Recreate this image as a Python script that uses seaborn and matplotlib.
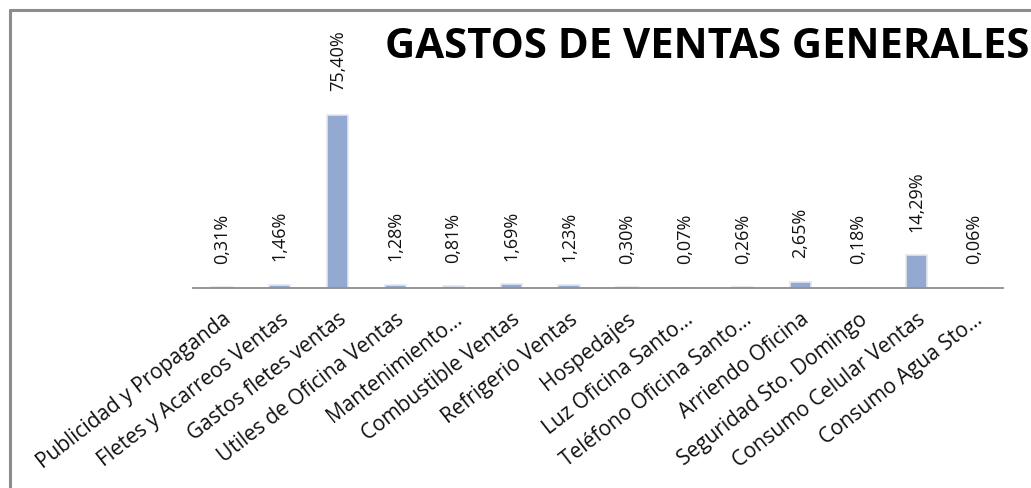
import matplotlib
matplotlib.use("Agg")
import matplotlib.pyplot as plt
import seaborn as sns
import pandas as pd
from matplotlib.lines import Line2D

categories = [
    "Publicidad y Propaganda", "Fletes y Acarreos Ventas", "Gastos fletes ventas",
    "Utiles de Oficina Ventas", "Mantenimiento…", "Combustible Ventas",
    "Refrigerio Ventas", "Hospedajes", "Luz Oficina Santo…",
    "Teléfono Oficina Santo…", "Arriendo Oficina", "Seguridad Sto. Domingo",
    "Consumo Celular Ventas", "Consumo Agua Sto…",
]
values = [0.31, 1.46, 75.40, 1.28, 0.81, 1.69, 1.23, 0.30, 0.07, 0.26, 2.65, 0.18, 14.29, 0.06]
labels = ["0,31%", "1,46%", "75,40%", "1,28%", "0,81%", "1,69%", "1,23%", "0,30%",
          "0,07%", "0,26%", "2,65%", "0,18%", "14,29%", "0,06%"]
title = "GASTOS DE VENTAS GENERALES"

sns.set_theme(style="white")
plt.rcParams["font.family"] = ["Open Sans", "DejaVu Sans"]

W, H = 1031, 488
fig = plt.figure(figsize=(W / 100, H / 100), dpi=100)
ax = fig.add_axes([193 / W, 1 - 288 / H, 810 / W, 268 / H])

df = pd.DataFrame({"cat": categories, "val": values})
sns.barplot(data=df, x="cat", y="val", ax=ax, color="#93A9D1", width=0.37,
            saturation=1, edgecolor="#E4E7EC", linewidth=1.2)

ax.set_xlim(-0.5, len(categories) - 0.5)
ax.set_ylim(0, 116.8)
ax.set_xlabel("")
ax.set_ylabel("")
ax.set_yticks([])
for s in ["top", "left", "right"]:
    ax.spines[s].set_visible(False)
ax.spines["bottom"].set_color("#8C8C8C")
ax.spines["bottom"].set_linewidth(1.3)
ax.tick_params(axis="x", length=0, pad=15)
ax.set_xticks(range(len(categories)))
ax.set_xticklabels(categories, rotation=38, ha="right", rotation_mode="anchor",
                   fontsize=15, color="#111111")

for i, (v, lab) in enumerate(zip(values, labels)):
    ax.annotate(lab, (i, v), xytext=(0, 17), textcoords="offset points",
                rotation=90, ha="center", va="bottom", fontsize=13, color="#111111")

fig.text(385 / W, 1 - 47 / H, title, fontsize=30.2, fontweight="bold",
         ha="left", va="center", color="black")

# outer frame (left and top visible)
fig.add_artist(Line2D([9.5 / W, 9.5 / W], [0, 1 - 9.5 / H], transform=fig.transFigure,
                      color="#8C8C8C", linewidth=2.2))
fig.add_artist(Line2D([9.5 / W, 1], [1 - 9.5 / H, 1 - 9.5 / H], transform=fig.transFigure,
                      color="#8C8C8C", linewidth=2.2))

fig.savefig("out.png", dpi=100)
